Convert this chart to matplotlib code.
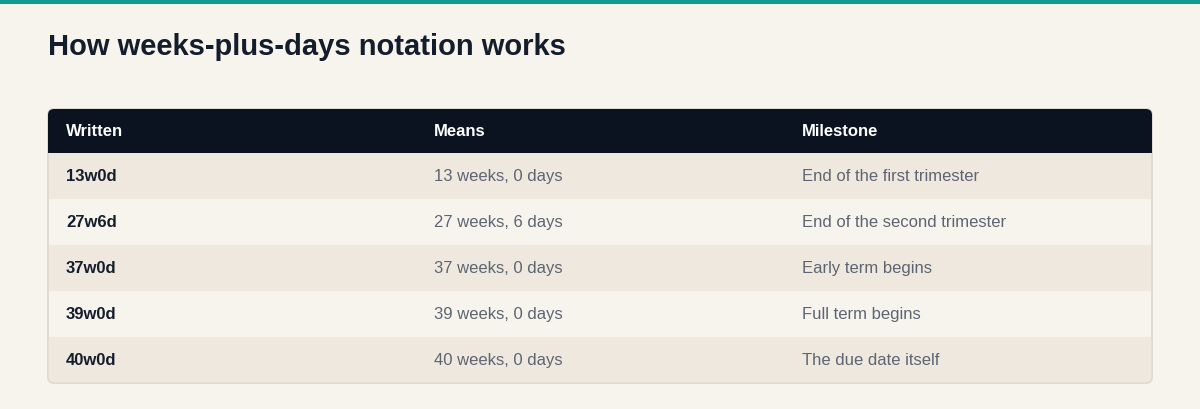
import matplotlib.pyplot as plt
from matplotlib.patches import FancyBboxPatch, Rectangle

plt.rcParams['font.family'] = ['Liberation Sans', 'DejaVu Sans']

title = "How weeks-plus-days notation works"
headers = ["Written", "Means", "Milestone"]
written = ["13w0d", "27w6d", "37w0d", "39w0d", "40w0d"]
means = ["13 weeks, 0 days", "27 weeks, 6 days", "37 weeks, 0 days",
         "39 weeks, 0 days", "40 weeks, 0 days"]
milestones = ["End of the first trimester", "End of the second trimester",
              "Early term begins", "Full term begins", "The due date itself"]

bg = "#f7f4ee"
fig = plt.figure(figsize=(12, 4.1), dpi=100, facecolor=bg)
ax = fig.add_axes([0, 0, 1, 1])
ax.set_xlim(0, 1200)
ax.set_ylim(410, 0)
ax.axis("off")

# teal strip on top
ax.add_patch(Rectangle((0, 0), 1200, 5, color="#149a8e", lw=0))

ax.text(48, 47, title, fontsize=21, fontweight="bold", color="#141d2b", va="center")

left, right = 48, 1152
head_top, head_h, row_h = 110, 44, 46
col_x = [66, 434, 802]
bottom = head_top + head_h + row_h * len(written)

# outer border / body
ax.add_patch(FancyBboxPatch((left, head_top), right - left, bottom - head_top,
                            boxstyle="round,pad=0,rounding_size=6",
                            fc=bg, ec="#dcd6cc", lw=1.2, zorder=1))
for i in range(len(written)):
    y = head_top + head_h + i * row_h
    fc = "#efe8df" if i % 2 == 0 else bg
    if i == len(written) - 1:
        ax.add_patch(FancyBboxPatch((left + 0.6, y), right - left - 1.2, row_h - 0.6,
                                    boxstyle="round,pad=0,rounding_size=6",
                                    fc=fc, ec="none", zorder=2))
        ax.add_patch(Rectangle((left + 0.6, y), right - left - 1.2, 10, fc=fc, ec="none", zorder=2))
    else:
        ax.add_patch(Rectangle((left + 0.6, y), right - left - 1.2, row_h, fc=fc, ec="none", zorder=2))
    cy = y + row_h / 2
    ax.text(col_x[0], cy, written[i], fontsize=12, fontweight="bold", color="#141d2b", va="center", zorder=3)
    ax.text(col_x[1], cy, means[i], fontsize=12, color="#5d6572", va="center", zorder=3)
    ax.text(col_x[2], cy, milestones[i], fontsize=12, color="#5d6572", va="center", zorder=3)

# header
ax.add_patch(FancyBboxPatch((left, head_top), right - left, head_h,
                            boxstyle="round,pad=0,rounding_size=6",
                            fc="#0b1320", ec="none", zorder=4))
ax.add_patch(Rectangle((left, head_top + head_h - 10), right - left, 10, fc="#0b1320", ec="none", zorder=4))
for x, h in zip(col_x, headers):
    ax.text(x, head_top + head_h / 2, h, fontsize=12, fontweight="bold", color="white", va="center", zorder=5)

fig.savefig("out.png", dpi=100, facecolor=bg)
